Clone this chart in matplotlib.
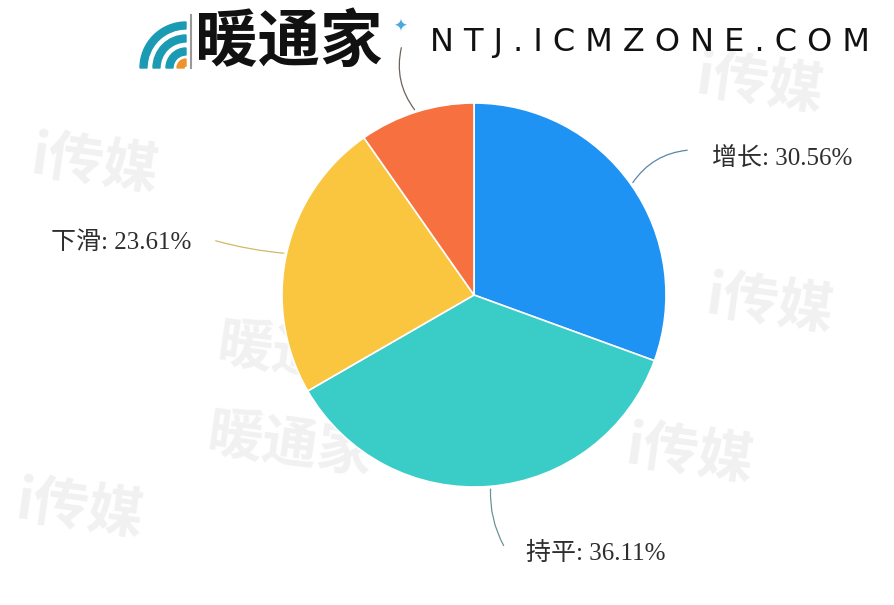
import matplotlib.pyplot as plt
from matplotlib.patches import Wedge
import math

# 字体设置：数字用衬线体，中文回退到思源黑体
plt.rcParams['font.family'] = ['Liberation Serif', 'Noto Sans CJK SC']
plt.rcParams['axes.unicode_minus'] = False  # 解决负号显示问题

# 数据
labels = ['增长', '持平', '下滑', '其他']
shares = [30.56, 36.11, 23.61, 9.72]
colors = ['#1F93F3', '#3ACCC6', '#FAC53F', '#F7703F']
line_colors = ['#5A86A8', '#6A9494', '#CDBB6A', '#6E6258']
show_label = [True, True, True, False]  # 最后一项的标签被logo遮住

# 配置
config = {
    'center': (474, 310),  # 饼图中心（像素坐标）
    'radius': 192,  # 饼图半径
    'label_pos': [(712, 447, 'left'), (526, 52, 'left'), (191, 362, 'right'), (402, 560, 'left')],
    'line_end': [(690, 455), (505, 57), (213, 365), (402, 560)],
    'line_rad': [0.25, -0.15, 0.05, 0.25],
}

# 画布
plt.figure(figsize=(8.95, 6.05), dpi=100)
ax = plt.axes([0, 0, 1, 1])

# 背景水印
for x, y, s in [(95, 440, 'i传媒'), (760, 520, 'i传媒'), (770, 300, 'i传媒'), (80, 95, 'i传媒'),
                (300, 250, '暖通家'), (290, 160, '暖通家'), (690, 150, 'i传媒')]:
    plt.text(x, y, s, fontsize=40, color='#F1F1F1', fontweight='bold', ha='center', va='center',
             family='Noto Sans CJK SC', rotation=-8, zorder=0)

# 饼图
wedges, _ = plt.pie(shares, colors=colors, startangle=90, counterclock=False,
                    center=config['center'], radius=config['radius'], frame=True,
                    wedgeprops={'edgecolor': 'white', 'linewidth': 1.2})

# 引导线和标签
cx, cy = config['center']
for i, w in enumerate(wedges):
    ang = (w.theta1 + w.theta2) / 2.0
    px = cx + config['radius'] * math.cos(math.radians(ang))
    py = cy + config['radius'] * math.sin(math.radians(ang))
    plt.annotate('', xy=(px, py), xytext=config['line_end'][i],
                 arrowprops=dict(arrowstyle='-', color=line_colors[i], lw=0.9,
                                 connectionstyle=f"arc3,rad={config['line_rad'][i]}"))
    if show_label[i]:
        tx, ty, ha = config['label_pos'][i]
        plt.text(tx, ty, f'{labels[i]}: {shares[i]:.2f}%', fontsize=18, color='#2E2E2E',
                 ha=ha, va='center')

# 顶部logo
for r, c in [(46, '#1B9BB3'), (33, '#1B9BB3'), (20, '#1B9BB3'), (9, '#F0922B')]:
    ax.add_patch(Wedge((186, 537), r, 90, 180, width=7, color=c, zorder=5))
plt.plot([191, 191], [537, 590], color='#999999', lw=1.5, zorder=5)
plt.text(195, 563, '暖通家', fontsize=45, fontweight='bold', color='#111111',
         family='Noto Sans CJK SC', ha='left', va='center', zorder=6)
plt.text(400, 578, '✦', fontsize=12, color='#4AA8E0', family='DejaVu Sans', ha='center', va='center', zorder=6)
plt.text(430, 562, 'N T J . I C M Z O N E . C O M', fontsize=23, color='#111111',
         family='DejaVu Sans', ha='left', va='center', zorder=6)

plt.xlim(0, 895)
plt.ylim(0, 605)
plt.axis('off')
plt.savefig('out.png', dpi=100)
